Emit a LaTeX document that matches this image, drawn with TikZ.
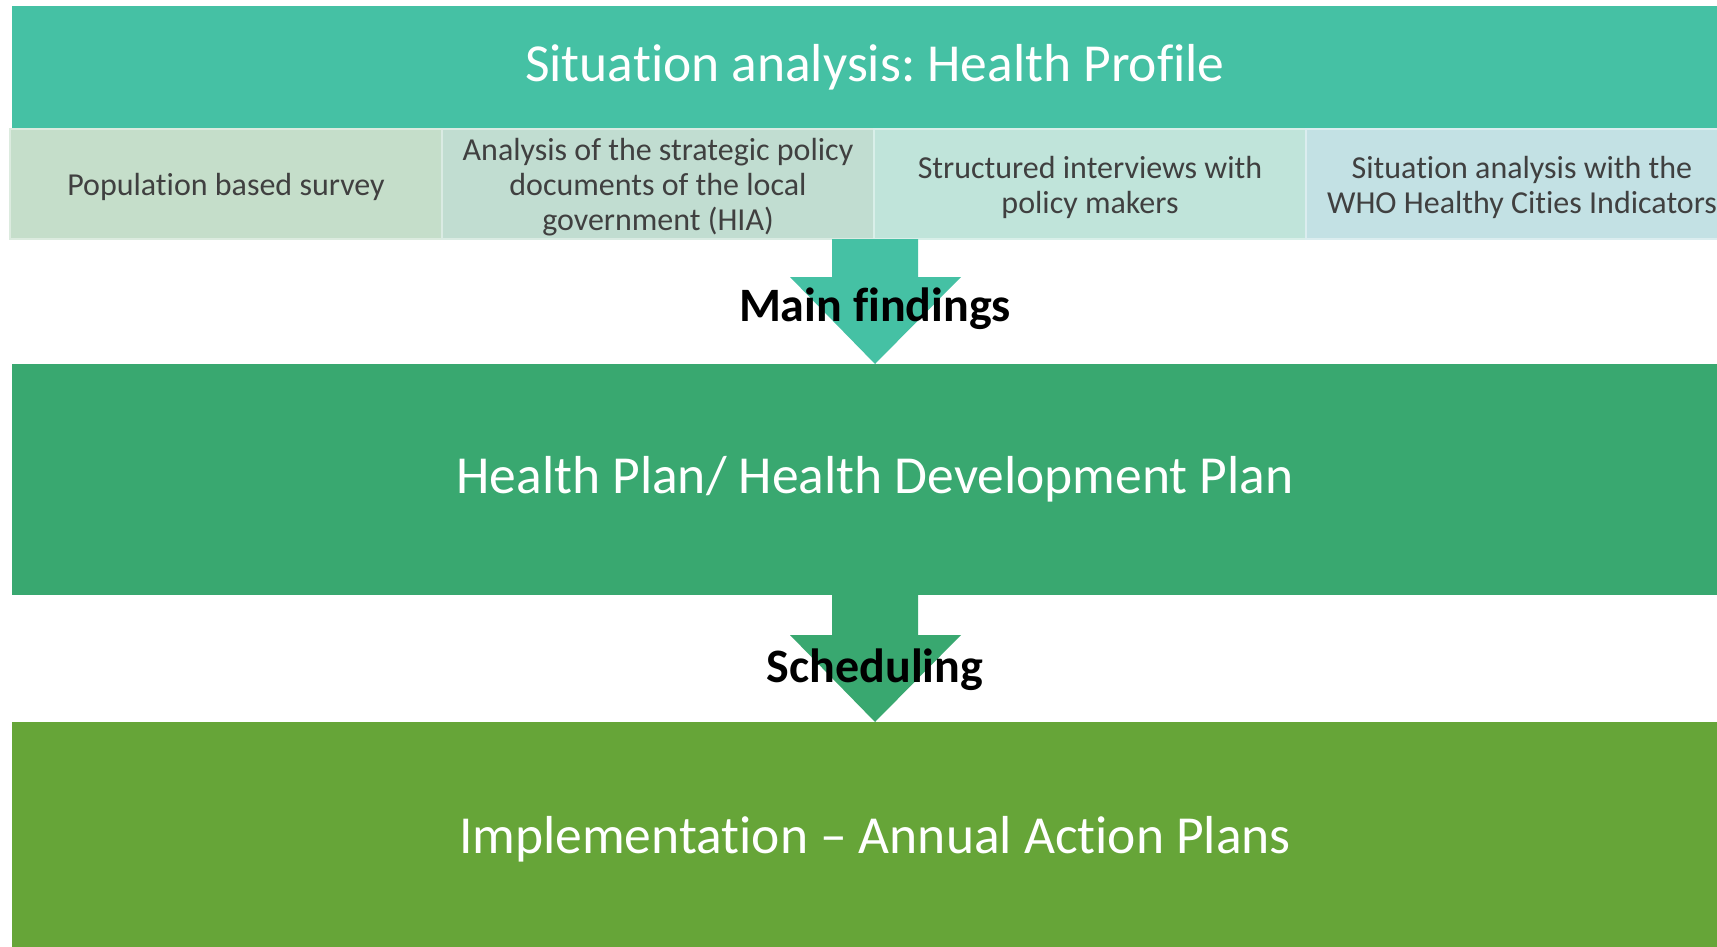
\documentclass[tikz,border=0pt]{standalone}
\usepackage{fontspec}
\setmainfont{Carlito}[Ligatures=NoCommon]
\frenchspacing
\usetikzlibrary{calc}
\definecolor{topc}{HTML}{45C1A4}
\definecolor{midc}{HTML}{39A870}
\definecolor{botc}{HTML}{66A538}
\definecolor{subA}{HTML}{C5DECA}
\definecolor{subB}{HTML}{C1DDD1}
\definecolor{subC}{HTML}{C0E4DA}
\definecolor{subD}{HTML}{C3E1E4}
\definecolor{txtgray}{HTML}{404040}
\begin{document}
\begin{tikzpicture}[x=1pt,y=-1pt,
  band/.style={anchor=north west, minimum width=1726pt, inner sep=0pt, outer sep=0pt,
    text=white, font=\fontsize{53.5}{60}\selectfont},
  subbox/.style={anchor=north west, minimum width=432pt, minimum height=110pt,
    inner sep=0pt, outer sep=0pt, line width=1.5pt},
  subtext/.style={text=txtgray, align=center, inner sep=0pt,
    font=\fontsize{32}{35}\selectfont},
  lbl/.style={font=\fontsize{48}{52}\selectfont\bfseries, text=black, inner sep=0pt}]
\clip (0,0) rectangle (1717,947);
\fill[white] (0,0) rectangle (1717,947);
% bands
\node[band, fill=topc, minimum height=123pt] (top) at (12,6) {Situation analysis: Health Profile};
\node[band, fill=midc, minimum height=231pt] (mid) at (12,364) {Health Plan/ Health Development Plan};
\node[band, fill=botc, minimum height=234pt] (bot) at (12,722) {Implementation -- Annual Action Plans};
% sub boxes
\node[subbox, fill=subA, draw=subA!60!white] (s1) at (10,129) {};
\node[subbox, fill=subB, draw=subB!60!white] (s2) at (s1.north east) {};
\node[subbox, fill=subC, draw=subC!60!white] (s3) at (s2.north east) {};
\node[subbox, fill=subD, draw=subD!60!white] (s4) at (s3.north east) {};
\node[subtext] (t1) at ($(s1.center)+(0,3)$) {Population based survey};
\node[subtext] (t2) at ($(s2.center)+(0,3)$) {Analysis of the strategic policy\\documents of the local\\government (HIA)};
\node[subtext] (t3) at ($(s3.center)+(0,3)$) {Structured interviews with\\policy makers};
\node[subtext] (t4) at ($(s4.center)+(0,3)$) {Situation analysis with the\\WHO Healthy Cities Indicators};
% arrows
\coordinate (a1s) at (s1.south -| top.south);
\coordinate (a1e) at (mid.north);
\fill[topc] ($(a1s)+(-43,0)$) -- ($(a1s)+(43,0)$) -- ($(a1s)+(43,38)$) -- ($(a1s)+(86,38)$)
  -- (a1e) -- ($(a1s)+(-85,38)$) -- ($(a1s)+(-43,38)$) -- cycle;
\coordinate (a2s) at (mid.south);
\coordinate (a2e) at (bot.north);
\fill[midc] ($(a2s)+(-43,0)$) -- ($(a2s)+(43,0)$) -- ($(a2s)+(43,40)$) -- ($(a2s)+(86,40)$)
  -- (a2e) -- ($(a2s)+(-85,40)$) -- ($(a2s)+(-43,40)$) -- cycle;
% labels
\node[lbl] (l1) at (875,309) {Main findings};
\node[lbl] (l2) at (875,670) {Scheduling};
\end{tikzpicture}
\end{document}
